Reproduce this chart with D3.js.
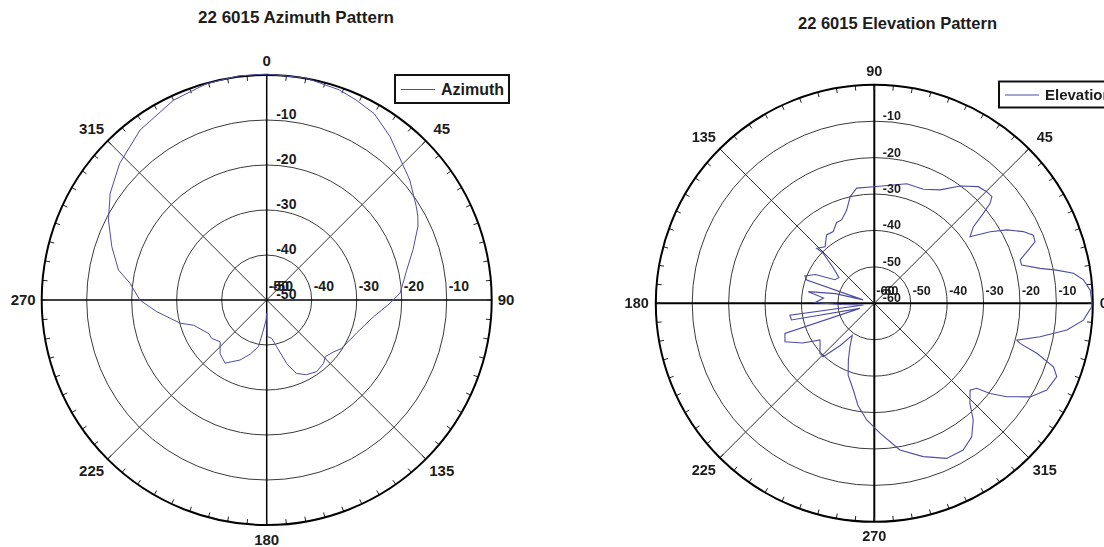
<!DOCTYPE html>
<html>
<head>
<meta charset="utf-8">
<script src="https://cdn.jsdelivr.net/npm/d3@7"></script>
<style>
  html, body { margin: 0; padding: 0; background: #fff; }
  svg { display: block; }
  text { font-family: "Liberation Sans", Arial, sans-serif; font-weight: bold; fill: #1c1c1c; }
</style>
</head>
<body>
<svg id="chart" width="1104" height="547"></svg>
<script>
// Azimuth pattern: bearing in degrees (clockwise from 0 at top), relative level in dB
const azAngles = [0, 10, 19, 24, 30, 37, 45, 50, 58, 61, 64, 71, 78, 87, 91.5, 99, 110, 123, 128, 134, 138, 145, 152, 158,
  162.5, 168, 172.5, 177.4, 179.3, 180, 182, 186.3, 190, 197, 204, 213.4, 221, 228, 235, 240, 251, 255, 264, 270,
  277, 281.4, 289, 296.8, 304.3, 312.9, 323.3, 335, 344.5, 353, 360];
const azValues = [0.2, 0.1, -0.6, -1.3, -2.2, -4.5, -7.3, -8.5, -10.8, -11.6, -12.6, -15.6, -18.2, -20.3, -22.6, -26, -28.7, -30.2, -31.2, -31.9, -31.1, -30.6, -31.2, -32.4,
  -35.2, -39.4, -41.4, -41.8, -42, -47, -45.5, -43.3, -39.5, -37.4, -35.4, -33.2, -34.2, -36.1, -35.1, -35.1, -32.8, -30.1, -25.4, -21.8,
  -19.4, -16.4, -13.6, -10.6, -7.9, -5.4, -2.9, -1, -0.1, 0.2, 0.2];

// Elevation pattern: angle in degrees (counter-clockwise from 0 at right), relative level in dB
const elAngles = [0, 3.5, 6.4, 8.6, 10.3, 11.9, 14.6, 16.6, 19.1, 21, 23.2, 25.7, 29, 31.7, 34.8, 37.7, 39.5, 40.8, 42.2, 44.8,
  48.3, 53.8, 59.9, 66.7, 74.8, 80.9, 90.5, 98.7, 102.8, 106.5, 111.4, 115, 119.8, 124.9, 131, 136.3, 135.6, 139, 144, 149,
  154, 158.5, 161, 163, 166, 170, 174, 179.4, 182, 188.8, 188, 191.4, 199.3, 198.6, 203.3, 209, 214, 216.4, 222.6, 226.3,
  231, 235.5, 240.8, 245.4, 250, 256.4, 261, 266.3, 272.5, 279.9, 287.7, 295, 301.2, 306.1, 310.3, 313.7, 317.8, 320.3, 322.1, 324.8,
  329, 333.3, 338.1, 340.5, 342.9, 344.6, 345.5, 348.6, 352.1, 355.4, 359.1, 360];
const elValues = [-0.2, -0.6, -2.2, -4.7, -9.1, -13.5, -18.2, -18.2, -15.2, -12.7, -12.5, -14.6, -18.4, -22.6, -28, -25.6, -21.2, -18, -16.4, -16.5,
  -17.1, -20.1, -24, -25.9, -26, -27.1, -28, -28, -30, -33.3, -35.4, -35.5, -37.3, -37.1, -39.4, -38.1, -40.4, -45, -48, -47.4,
  -42, -39.5, -40.4, -56.8, -49, -41.6, -46, -43.7, -51, -57, -36.6, -36.8, -55.8, -34.1, -33.3, -37.5, -42, -41.5, -39.7, -39.7,
  -45, -49.3, -46.3, -42.9, -39, -35.5, -31.5, -27.9, -24.3, -19.1, -15.8, -13, -12.9, -14.6, -18, -22, -24.5, -23.5, -19.7, -15.5,
  -10.1, -7, -6, -7.8, -13.3, -18.5, -19.6, -13.6, -6.6, -2.4, -0.3, -0.2];

// Ring (dB) ticks and compass labels
const azRings = [-10, -20, -30, -40, -50];
const elRings = [-10, -20, -30, -40, -50, -60];
const spokeAngles = [0, 45, 90, 135, 180, 225, 270, 315];
const azSpokeLabels = ["0", "45", "90", "135", "180", "225", "270", "315"];      // clockwise from top
const elSpokeLabels = ["90", "45", "0", "315", "270", "225", "180", "135"];      // clockwise from top

const svg = d3.select("#chart");
svg.append("rect").attr("width", 1104).attr("height", 547).attr("fill", "#fff");

const defs = svg.append("defs");
defs.append("filter").attr("id", "soft").attr("x", "-5%").attr("y", "-5%").attr("width", "110%").attr("height", "110%")
  .append("feGaussianBlur").attr("stdDeviation", 0.45);

function polarChart(opt) {
  const g = svg.append("g").attr("transform", `translate(${opt.cx},${opt.cy})`);
  if (opt.soft) g.attr("filter", "url(#soft)");
  const R = opt.R;
  const r = d3.scaleLinear().domain([opt.min, 0]).range([0, R]);
  // screen angle (radians, clockwise from top) for a data angle
  const ang = d3.scaleLinear().domain([0, 360]).range(opt.ccwFromRight ? [Math.PI / 2, Math.PI / 2 - 2 * Math.PI] : [0, 2 * Math.PI]);

  // rings
  g.selectAll("circle.ring").data(opt.rings.filter(v => v > opt.min)).join("circle")
    .attr("class", "ring").attr("r", d => r(d)).attr("fill", "none")
    .attr("stroke", "#3a3a3a").attr("stroke-width", 1);

  // spokes
  g.selectAll("line.spoke").data(spokeAngles).join("line")
    .attr("x1", 0).attr("y1", 0)
    .attr("x2", d => R * Math.sin(d * Math.PI / 180))
    .attr("y2", d => -R * Math.cos(d * Math.PI / 180))
    .attr("stroke", d => d % 90 === 0 ? "#000" : "#333")
    .attr("stroke-width", d => d % 90 === 0 ? opt.axisWidth : 1);

  // minor ticks every 5 degrees on the outer circle
  const minor = d3.range(0, 360, 5);
  g.selectAll("line.minor").data(minor).join("line")
    .attr("x1", d => R * Math.sin(d * Math.PI / 180))
    .attr("y1", d => -R * Math.cos(d * Math.PI / 180))
    .attr("x2", d => (R - 5) * Math.sin(d * Math.PI / 180))
    .attr("y2", d => -(R - 5) * Math.cos(d * Math.PI / 180))
    .attr("stroke", "#222").attr("stroke-width", 1);

  // outer circle
  g.append("circle").attr("r", R).attr("fill", "none").attr("stroke", "#000").attr("stroke-width", 2);

  // pattern trace
  const pts = opt.angles.map((a, i) => ({ a, v: opt.values[i] }));
  const line = d3.lineRadial().angle(d => ang(d.a)).radius(d => r(d.v));
  g.append("path").datum(pts).attr("d", line)
    .attr("fill", "none").attr("stroke", "#4d4da6").attr("stroke-width", opt.traceWidth);

  // ring labels along the vertical axis
  g.selectAll("text.vlab").data(opt.rings).join("text")
    .attr("x", opt.vlabDx).attr("y", d => -r(d) - 1)
    .style("font-size", opt.ringFont + "px").text(d => d);
  // ring labels along the horizontal axis
  g.selectAll("text.hlab").data(opt.rings.slice().reverse()).join("text")
    .attr("x", d => r(d) + 2).attr("y", -opt.hlabDy)
    .style("font-size", opt.ringFont + "px").text(d => d);
  g.append("text").attr("x", 6).attr("y", -opt.hlabDy)
    .style("font-size", opt.ringFont + "px").text(opt.min);

  // compass labels
  const dia = R * Math.SQRT1_2;
  opt.spokeLabels.forEach((t, i) => {
    const a = spokeAngles[i];
    let x, y, anchor = "middle";
    if (a === 0) { x = 0; y = -R - 14; }
    else if (a === 180) { x = 0; y = R + 14.5; }
    else if (a === 90) { x = R + opt.sideGap; y = 0; anchor = "start"; }
    else if (a === 270) { x = -R - opt.sideGap; y = 0; anchor = "end"; }
    else {
      x = Math.sign(Math.sin(a * Math.PI / 180)) * (dia + 16);
      y = -Math.sign(Math.cos(a * Math.PI / 180)) * (dia + 12);
    }
    g.append("text").attr("x", x).attr("y", y).attr("dy", "0.35em")
      .attr("text-anchor", anchor).style("font-size", opt.labelFont + "px").text(t);
  });

  // title
  svg.append("text").attr("x", opt.titleX).attr("y", opt.titleY)
    .style("font-size", opt.titleFont + "px").text(opt.title);

  // legend
  const lg = svg.append("g").attr("transform", `translate(${opt.legend.x},${opt.legend.y})`);
  if (opt.soft) lg.attr("filter", "url(#soft)");
  lg.append("rect").attr("width", opt.legend.w).attr("height", opt.legend.h)
    .attr("fill", "#fff").attr("stroke", "#111").attr("stroke-width", 2);
  lg.append("line").attr("x1", 6).attr("x2", 40).attr("y1", opt.legend.h / 2 + 0.5).attr("y2", opt.legend.h / 2 + 0.5)
    .attr("stroke", "#4d4da6").attr("stroke-width", 1);
  lg.append("text").attr("x", 46).attr("y", opt.legend.h / 2).attr("dy", "0.35em")
    .style("font-size", opt.legendFont + "px").text(opt.legend.label);
}

polarChart({
  cx: 266.7, cy: 300, R: 225, min: -50, rings: azRings,
  angles: azAngles, values: azValues, ccwFromRight: false,
  spokeLabels: azSpokeLabels, axisWidth: 1.5, traceWidth: 1,
  vlabDx: 9.5, hlabDy: 9.5, ringFont: 14, labelFont: 15, sideGap: 6,
  title: "22 6015 Azimuth Pattern", titleX: 198, titleY: 23, titleFont: 17,
  legendFont: 16,
  legend: { x: 395, y: 75, w: 114, h: 28, label: "Azimuth" }
});

polarChart({
  cx: 874.3, cy: 303.3, R: 218.5, min: -60, rings: elRings,
  angles: elAngles, values: elValues, ccwFromRight: true,
  spokeLabels: elSpokeLabels, axisWidth: 2, traceWidth: 1.1, soft: true,
  vlabDx: 8.5, hlabDy: 8.3, ringFont: 12.5, labelFont: 14.5, sideGap: 7,
  title: "22 6015 Elevation Pattern", titleX: 798, titleY: 29, titleFont: 16.5,
  legendFont: 15,
  legend: { x: 999, y: 81.5, w: 120, h: 26, label: "Elevation" }
});
</script>
</body>
</html>
